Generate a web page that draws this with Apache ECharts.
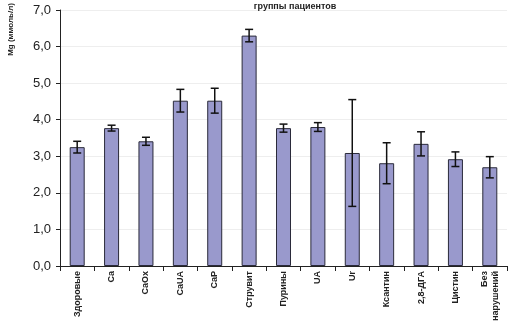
<!DOCTYPE html>
<html>
<head>
<meta charset="utf-8">
<script src="https://cdn.jsdelivr.net/npm/echarts@6/dist/echarts.min.js"></script>
<style>
  html, body { margin: 0; padding: 0; background: #fff; }
  #chart { width: 526px; height: 321px; }
</style>
</head>
<body>
<div id="chart"></div>
<script>
// группы пациентов
var categories = ['Здоровые', 'Ca', 'CaOx', 'CaUA', 'CaP', 'Струвит', 'Пурины', 'UA', 'Ur', 'Ксантин', '2,8-ДГА', 'Цистин', 'Без\nнарушений'];
var means = [3.25, 3.77, 3.41, 4.52, 4.52, 6.30, 3.77, 3.80, 3.09, 2.81, 3.34, 2.92, 2.70];
var errs = [0.16, 0.08, 0.11, 0.31, 0.34, 0.17, 0.11, 0.12, 1.46, 0.56, 0.33, 0.20, 0.29];
var yTicks = [0, 1, 2, 3, 4, 5, 6, 7];

var chart = echarts.init(document.getElementById('chart'), null, { renderer: 'canvas' });

var errData = means.map(function (m, i) { return [i, m - errs[i], m + errs[i]]; });

var option = {
  backgroundColor: '#ffffff',
  animation: false,
  title: {
    text: 'группы пациентов',
    left: 290,
    top: -3,
    textAlign: 'center',
    textStyle: { fontFamily: 'Liberation Sans', fontSize: 9, fontWeight: 'bold', color: '#222' }
  },
  // без outerBoundsMode v6 сжимает сетку под подписи
  grid: { left: 60, right: 19, top: 10, bottom: 55, outerBoundsMode: 'none', containLabel: false },
  xAxis: {
    type: 'category',
    data: categories,
    axisLine: { lineStyle: { color: '#222', width: 1 } },
    axisTick: { show: true, length: 5, lineStyle: { color: '#222' } },
    axisLabel: {
      rotate: 90, interval: 0, margin: 5,
      fontFamily: 'Liberation Sans', fontSize: 9, fontWeight: 'bold', color: '#222', lineHeight: 11
    }
  },
  yAxis: {
    type: 'value',
    min: 0, max: 7, interval: 1,
    axisLine: { show: true, lineStyle: { color: '#222', width: 1 } },
    axisTick: { show: true, length: 4, lineStyle: { color: '#222' } },
    splitLine: { show: true, lineStyle: { color: '#eeeeee', width: 1 } },
    axisLabel: {
      margin: 9,
      fontFamily: 'Liberation Sans', fontSize: 13, color: '#222',
      formatter: function (v) { return yTicks.indexOf(v) >= 0 ? v.toFixed(1).replace('.', ',') : ''; }
    }
  },
  graphic: [{
    type: 'text',
    left: 7,
    top: 3,
    rotation: Math.PI / 2,
    style: {
      text: 'Mg (ммоль/л)',
      font: 'bold 8px "Liberation Sans"',
      fill: '#222'
    }
  }],
  series: [{
    type: 'bar',
    data: means,
    barWidth: 15,
    itemStyle: { color: '#9999cc', borderColor: '#2a2a3a', borderWidth: 1 }
  }, {
    type: 'custom',
    data: errData,
    z: 10,
    renderItem: function (params, api) {
      var lo = api.coord([api.value(0), api.value(1)]);
      var hi = api.coord([api.value(0), api.value(2)]);
      var x = lo[0], cap = 4;
      var st = { stroke: '#111', lineWidth: 1.5 };
      return {
        type: 'group',
        children: [
          { type: 'line', shape: { x1: x, y1: lo[1], x2: x, y2: hi[1] }, style: st },
          { type: 'line', shape: { x1: x - cap, y1: lo[1], x2: x + cap, y2: lo[1] }, style: st },
          { type: 'line', shape: { x1: x - cap, y1: hi[1], x2: x + cap, y2: hi[1] }, style: st }
        ]
      };
    }
  }]
};

chart.setOption(option);
</script>
</body>
</html>
